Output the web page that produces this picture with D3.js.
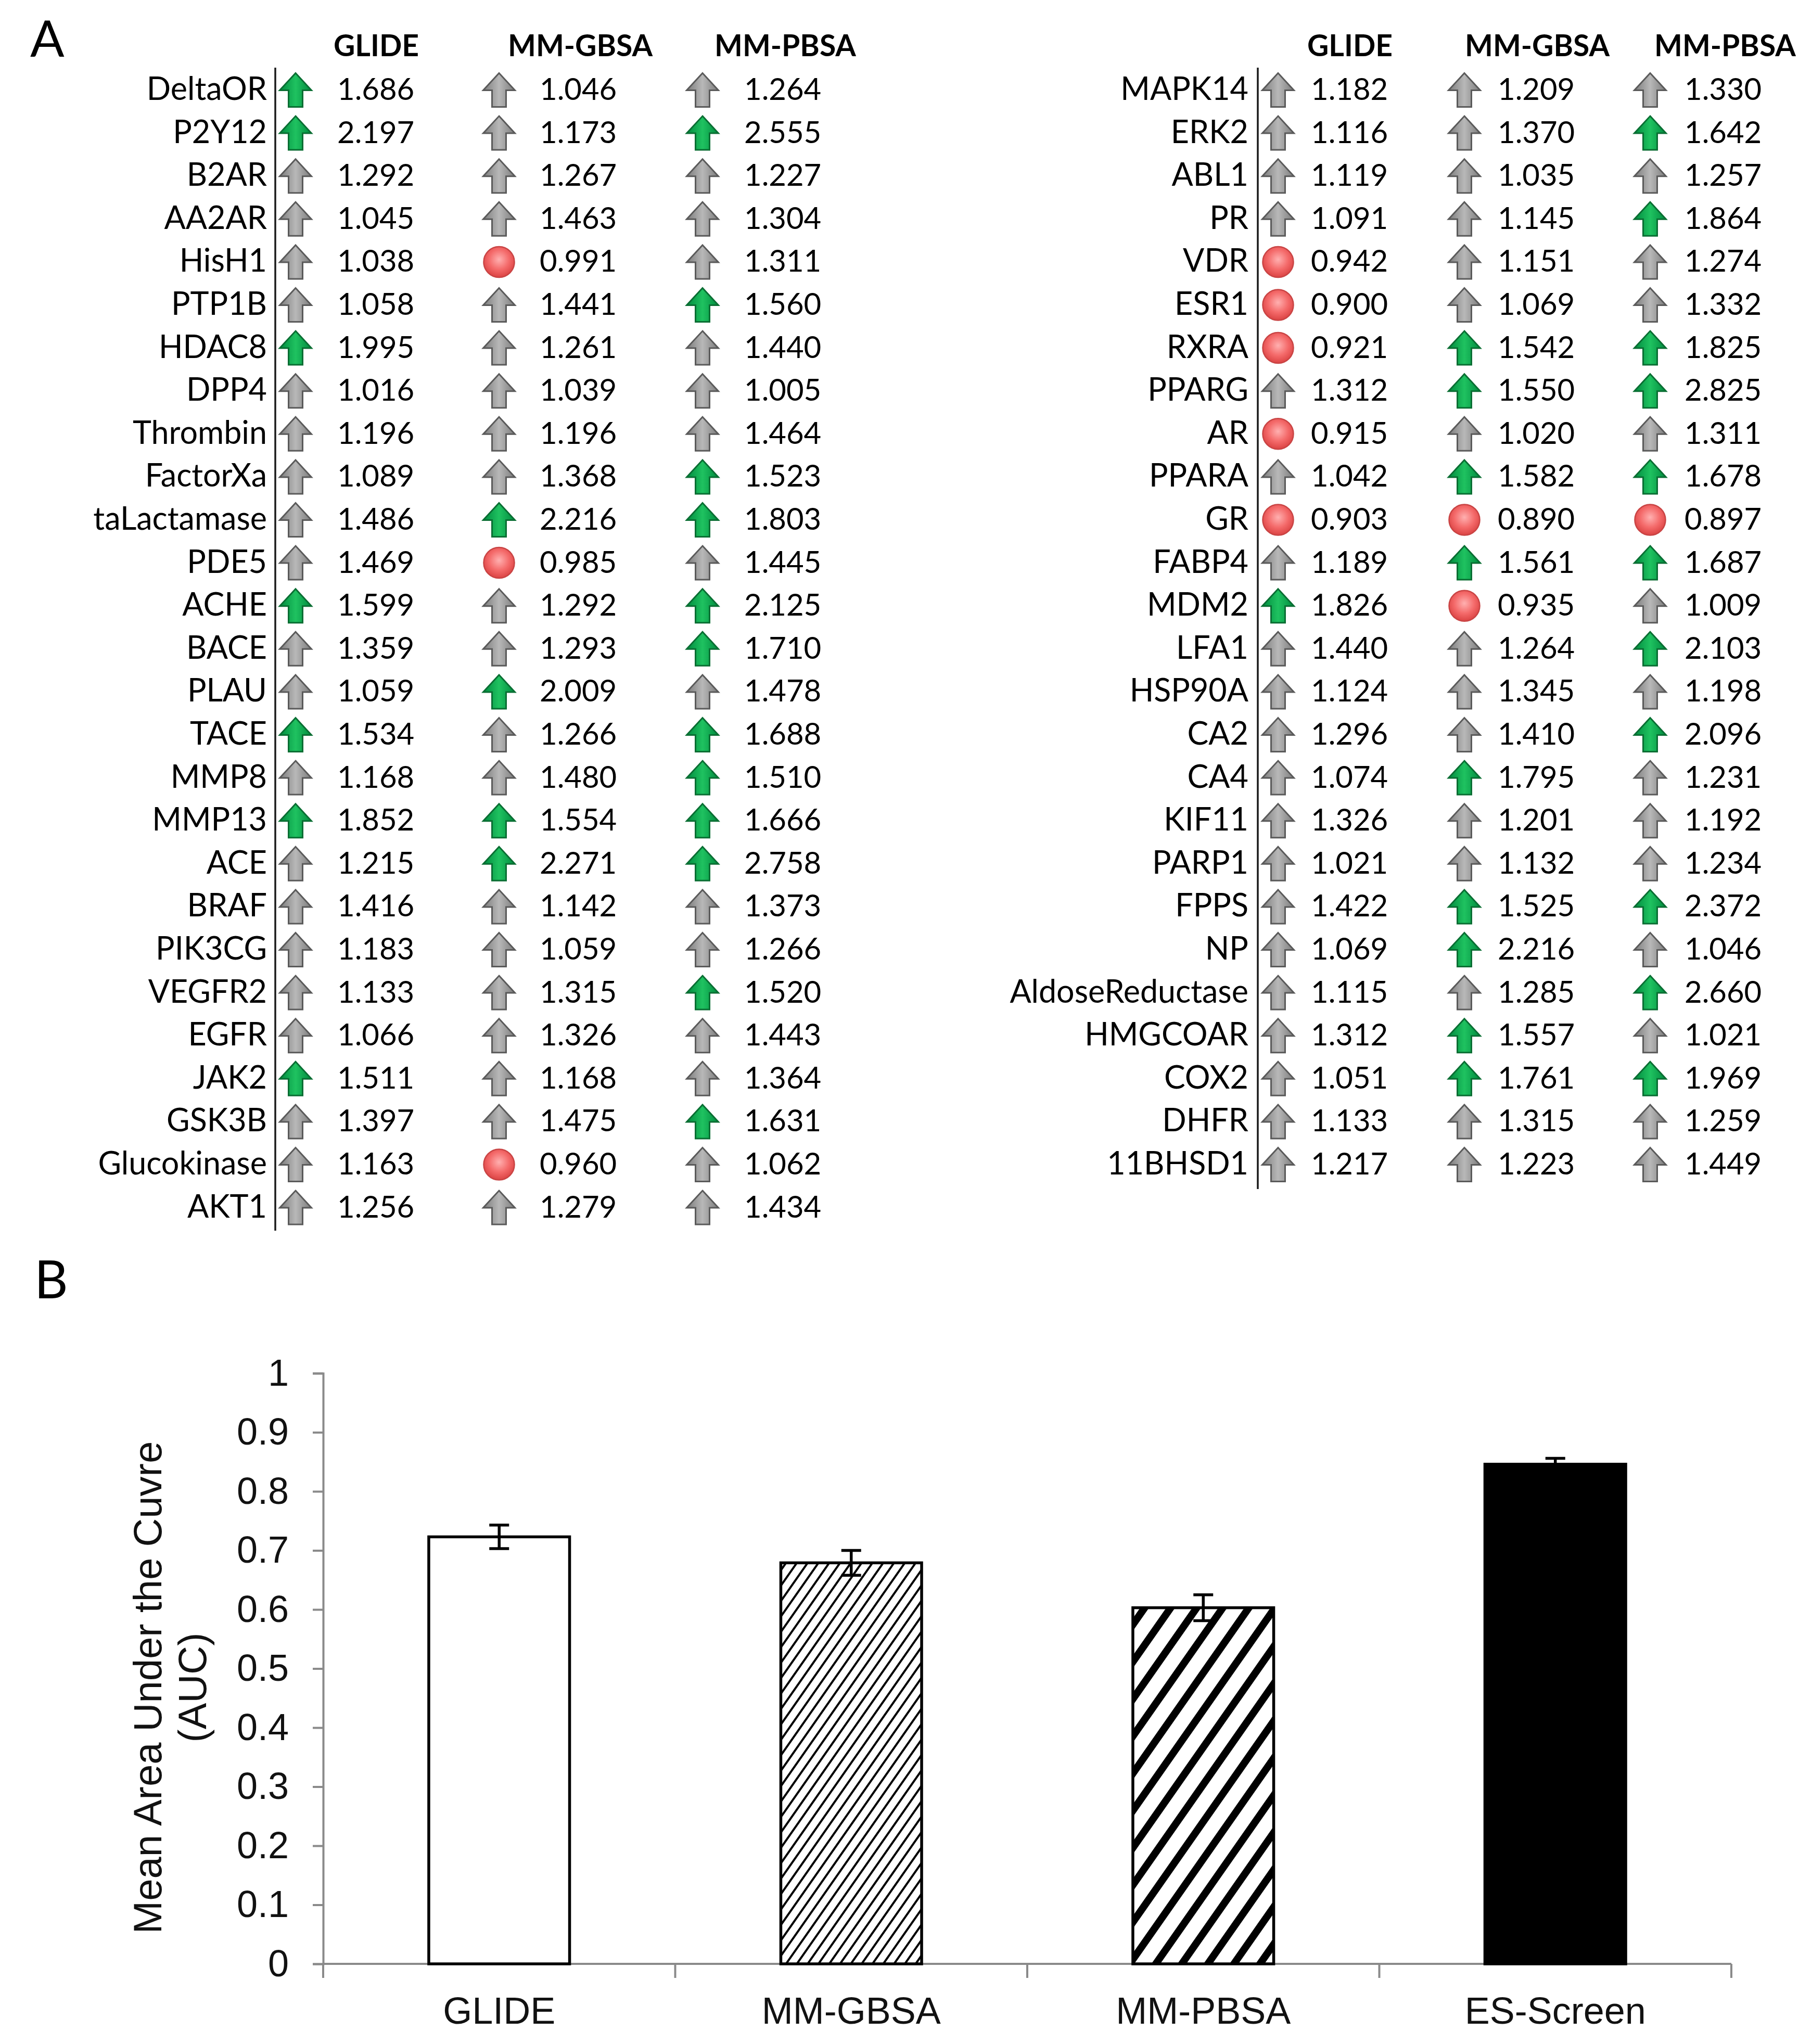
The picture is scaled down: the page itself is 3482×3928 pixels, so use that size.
<!DOCTYPE html>
<html>
<head>
<meta charset="utf-8">
<script src="https://cdn.jsdelivr.net/npm/d3@7"></script>
<style>
  body { margin: 0; background: #fff; }
  svg { display: block; }
</style>
</head>
<body>
<script>
// ---- data: panel A (enrichment factors) ----
var methods = ["GLIDE", "MM-GBSA", "MM-PBSA"];

var leftTargets = ["DeltaOR","P2Y12","B2AR","AA2AR","HisH1","PTP1B","HDAC8","DPP4","Thrombin","FactorXa",
  "taLactamase","PDE5","ACHE","BACE","PLAU","TACE","MMP8","MMP13","ACE","BRAF","PIK3CG","VEGFR2",
  "EGFR","JAK2","GSK3B","Glucokinase","AKT1"];
var leftGlide = [1.686,2.197,1.292,1.045,1.038,1.058,1.995,1.016,1.196,1.089,1.486,1.469,1.599,1.359,
  1.059,1.534,1.168,1.852,1.215,1.416,1.183,1.133,1.066,1.511,1.397,1.163,1.256];
var leftGbsa = [1.046,1.173,1.267,1.463,0.991,1.441,1.261,1.039,1.196,1.368,2.216,0.985,1.292,1.293,
  2.009,1.266,1.480,1.554,2.271,1.142,1.059,1.315,1.326,1.168,1.475,0.960,1.279];
var leftPbsa = [1.264,2.555,1.227,1.304,1.311,1.560,1.440,1.005,1.464,1.523,1.803,1.445,2.125,1.710,
  1.478,1.688,1.510,1.666,2.758,1.373,1.266,1.520,1.443,1.364,1.631,1.062,1.434];

var rightTargets = ["MAPK14","ERK2","ABL1","PR","VDR","ESR1","RXRA","PPARG","AR","PPARA","GR","FABP4",
  "MDM2","LFA1","HSP90A","CA2","CA4","KIF11","PARP1","FPPS","NP","AldoseReductase","HMGCOAR","COX2",
  "DHFR","11BHSD1"];
var rightGlide = [1.182,1.116,1.119,1.091,0.942,0.900,0.921,1.312,0.915,1.042,0.903,1.189,1.826,1.440,
  1.124,1.296,1.074,1.326,1.021,1.422,1.069,1.115,1.312,1.051,1.133,1.217];
var rightGbsa = [1.209,1.370,1.035,1.145,1.151,1.069,1.542,1.550,1.020,1.582,0.890,1.561,0.935,1.264,
  1.345,1.410,1.795,1.201,1.132,1.525,2.216,1.285,1.557,1.761,1.315,1.223];
var rightPbsa = [1.330,1.642,1.257,1.864,1.274,1.332,1.825,2.825,1.311,1.678,0.897,1.687,1.009,2.103,
  1.198,2.096,1.231,1.192,1.234,2.372,1.046,2.660,1.021,1.969,1.259,1.449];

// ---- data: panel B (mean AUC) ----
var barCategories = ["GLIDE", "MM-GBSA", "MM-PBSA", "ES-Screen"];
var barMeans = [0.723, 0.679, 0.603, 0.846];
var barErrors = [0.020, 0.021, 0.022, 0.010];
var yTicks = [0, 0.1, 0.2, 0.3, 0.4, 0.5, 0.6, 0.7, 0.8, 0.9, 1];

var W = 3482, H = 3928;
var svg = d3.select("body").append("svg")
    .attr("width", W).attr("height", H)
    .attr("viewBox", "0 0 " + W + " " + H);
svg.append("rect").attr("width", W).attr("height", H).attr("fill", "#fff");

var defs = svg.append("defs");

function hGrad(id, c0, c1) {
  var g = defs.append("linearGradient").attr("id", id)
      .attr("x1", "0%").attr("x2", "100%").attr("y1", "0%").attr("y2", "0%");
  g.append("stop").attr("offset", "0%").attr("stop-color", c0);
  g.append("stop").attr("offset", "50%").attr("stop-color", c1);
  g.append("stop").attr("offset", "100%").attr("stop-color", c0);
}
hGrad("gradGray", "#7b7b7b", "#b8b8b8");
hGrad("gradGreen", "#008a3e", "#1fc260");

var rg = defs.append("radialGradient").attr("id", "gradRed")
    .attr("cx", "50%").attr("cy", "42%").attr("r", "55%");
rg.append("stop").attr("offset", "0%").attr("stop-color", "#ffb0b0");
rg.append("stop").attr("offset", "60%").attr("stop-color", "#f46a6a");
rg.append("stop").attr("offset", "100%").attr("stop-color", "#de4848");

// hatch patterns
function hatch(id, period, width) {
  var p = defs.append("pattern").attr("id", id)
      .attr("patternUnits", "userSpaceOnUse")
      .attr("width", period).attr("height", period)
      .attr("patternTransform", "rotate(35)");
  p.append("rect").attr("width", period).attr("height", period).attr("fill", "#fff");
  p.append("rect").attr("x", 0).attr("y", 0).attr("width", width).attr("height", period).attr("fill", "#000");
}
hatch("hatchFine", 17, 4);
hatch("hatchWide", 41, 14);

// ---- panel A ----
var arrowPath = "M0,-32.5 L30.5,0.5 L13.5,0.5 L13.5,32.5 L-13.5,32.5 L-13.5,0.5 L-30.5,0.5 Z";
var tableFont = "Lato, 'Open Sans', sans-serif";

function iconKind(v) {
  if (v < 1) return "red";
  if (v >= 1.5) return "green";
  return "gray";
}

function drawTable(targets, cols, opt) {
  var g = svg.append("g");
  var row = d3.scaleLinear().domain([0, 1]).range([172, 254.6]);

  g.selectAll("text.head").data(methods).enter().append("text")
      .attr("class", "head")
      .attr("x", function(d, i) { return opt.headX[i]; })
      .attr("y", 108)
      .attr("text-anchor", "middle")
      .style("font-family", tableFont).style("font-weight", "bold").style("font-size", "57px")
      .text(function(d) { return d; });

  g.append("line")
      .attr("x1", opt.lineX).attr("x2", opt.lineX)
      .attr("y1", 130).attr("y2", opt.lineBottom)
      .attr("stroke", "#1a1a1a").attr("stroke-width", 3.5);

  g.selectAll("text.lab").data(targets).enter().append("text")
      .attr("class", "lab")
      .attr("x", opt.labelX)
      .attr("y", function(d, i) { return row(i) + 20; })
      .attr("text-anchor", "end")
      .style("font-family", tableFont).style("font-size", "61px").attr("fill", "#000")
      .text(function(d) { return d; });

  cols.forEach(function(vals, c) {
    var cells = g.selectAll("g.c" + c).data(vals).enter().append("g")
        .attr("class", "c" + c);

    cells.each(function(v, i) {
      var cell = d3.select(this);
      var cy = row(i) + 1;
      var k = iconKind(v);
      if (k === "red") {
        cell.append("circle")
            .attr("cx", opt.iconX[c]).attr("cy", cy).attr("r", 29.5)
            .attr("fill", "url(#gradRed)").attr("stroke", "#c94444").attr("stroke-width", 2.5);
      } else {
        cell.append("path")
            .attr("d", arrowPath)
            .attr("transform", "translate(" + opt.iconX[c] + "," + cy + ")")
            .attr("fill", k === "green" ? "url(#gradGreen)" : "url(#gradGray)")
            .attr("stroke", k === "green" ? "#0a6e33" : "#5a5a5a")
            .attr("stroke-width", 3).attr("stroke-linejoin", "miter");
      }
      cell.append("text")
          .attr("x", opt.valX[c])
          .attr("y", row(i) + 20)
          .style("font-family", tableFont).style("font-size", "58px").attr("fill", "#000")
          .text(d3.format(".3f")(v));
    });
  });
}

drawTable(leftTargets, [leftGlide, leftGbsa, leftPbsa], {
  headX: [723, 1115, 1509],
  lineX: 529, lineBottom: 2365,
  labelX: 513,
  iconX: [568, 959, 1350],
  valX: [648, 1037, 1430]
});
drawTable(rightTargets, [rightGlide, rightGbsa, rightPbsa], {
  headX: [2594, 2954, 3315],
  lineX: 2417, lineBottom: 2285,
  labelX: 2399,
  iconX: [2456, 2814, 3171],
  valX: [2519, 2878, 3237]
});

svg.append("text").attr("x", 58).attr("y", 109)
    .style("font-family", tableFont).style("font-size", "97px").text("A");
svg.append("text").attr("x", 66).attr("y", 2495)
    .style("font-family", tableFont).style("font-size", "100px").text("B");

// ---- panel B ----
var chartFont = "'Liberation Sans', Arial, sans-serif";
var x = d3.scaleBand().domain(barCategories).range([621, 3327])
    .paddingInner(0.6).paddingOuter(0.3);
var y = d3.scaleLinear().domain([0, 1]).range([3774, 2639]);
var axisColor = "#8a8a8a";

var yAxis = svg.append("g")
    .attr("transform", "translate(621,0)")
    .call(d3.axisLeft(y).tickValues(yTicks).tickSize(20).tickPadding(46)
      .tickFormat(function(d) { return (d === 0 || d === 1) ? String(d) : d3.format(".1f")(d); }));
yAxis.select(".domain").attr("stroke", axisColor).attr("stroke-width", 4);
yAxis.selectAll(".tick line").attr("stroke", axisColor).attr("stroke-width", 4);
yAxis.selectAll(".tick text")
    .style("font-family", chartFont).style("font-size", "72px").attr("fill", "#111");

// x axis: line with ticks at category boundaries
var xAxis = svg.append("g");
xAxis.append("line")
    .attr("x1", x.range()[0]).attr("x2", x.range()[1])
    .attr("y1", y(0)).attr("y2", y(0))
    .attr("stroke", axisColor).attr("stroke-width", 4);
var bounds = d3.range(barCategories.length + 1).map(function(i) { return x.range()[0] + i * x.step(); });
xAxis.selectAll("line.xt").data(bounds).enter().append("line")
    .attr("class", "xt")
    .attr("x1", function(d) { return d; }).attr("x2", function(d) { return d; })
    .attr("y1", y(0)).attr("y2", y(0) + 27)
    .attr("stroke", axisColor).attr("stroke-width", 4);
xAxis.selectAll("text").data(barCategories).enter().append("text")
    .attr("x", function(d) { return x(d) + x.bandwidth() / 2; })
    .attr("y", 3889)
    .attr("text-anchor", "middle")
    .style("font-family", chartFont).style("font-size", "72px").attr("fill", "#111")
    .text(function(d) { return d; });

var barFills = ["#fff", "url(#hatchFine)", "url(#hatchWide)", "#000"];
svg.append("g").selectAll("rect").data(barMeans).enter().append("rect")
    .attr("x", function(d, i) { return x(barCategories[i]); })
    .attr("y", function(d) { return y(d); })
    .attr("width", x.bandwidth())
    .attr("height", function(d) { return y(0) - y(d); })
    .attr("fill", function(d, i) { return barFills[i]; })
    .attr("stroke", "#000").attr("stroke-width", 5.5);

// error bars
var eb = svg.append("g").selectAll("g").data(barMeans).enter().append("g")
    .attr("stroke", "#000").attr("stroke-width", 5.5);
eb.append("line")
    .attr("x1", function(d, i) { return x(barCategories[i]) + x.bandwidth() / 2; })
    .attr("x2", function(d, i) { return x(barCategories[i]) + x.bandwidth() / 2; })
    .attr("y1", function(d, i) { return y(d + barErrors[i]); })
    .attr("y2", function(d, i) { return y(d - barErrors[i]); });
[1, -1].forEach(function(s) {
  eb.append("line")
      .attr("x1", function(d, i) { return x(barCategories[i]) + x.bandwidth() / 2 - 19; })
      .attr("x2", function(d, i) { return x(barCategories[i]) + x.bandwidth() / 2 + 19; })
      .attr("y1", function(d, i) { return y(d + s * barErrors[i]); })
      .attr("y2", function(d, i) { return y(d + s * barErrors[i]); });
});

// y title
var yt = svg.append("text")
    .attr("transform", "translate(0,3243) rotate(-90)")
    .attr("text-anchor", "middle")
    .style("font-family", chartFont).style("font-size", "76px").attr("fill", "#111");
yt.append("tspan").attr("x", 0).attr("y", 310).text("Mean Area Under the Cuvre");
yt.append("tspan").attr("x", 0).attr("y", 396).text("(AUC)");
</script>
</body>
</html>
